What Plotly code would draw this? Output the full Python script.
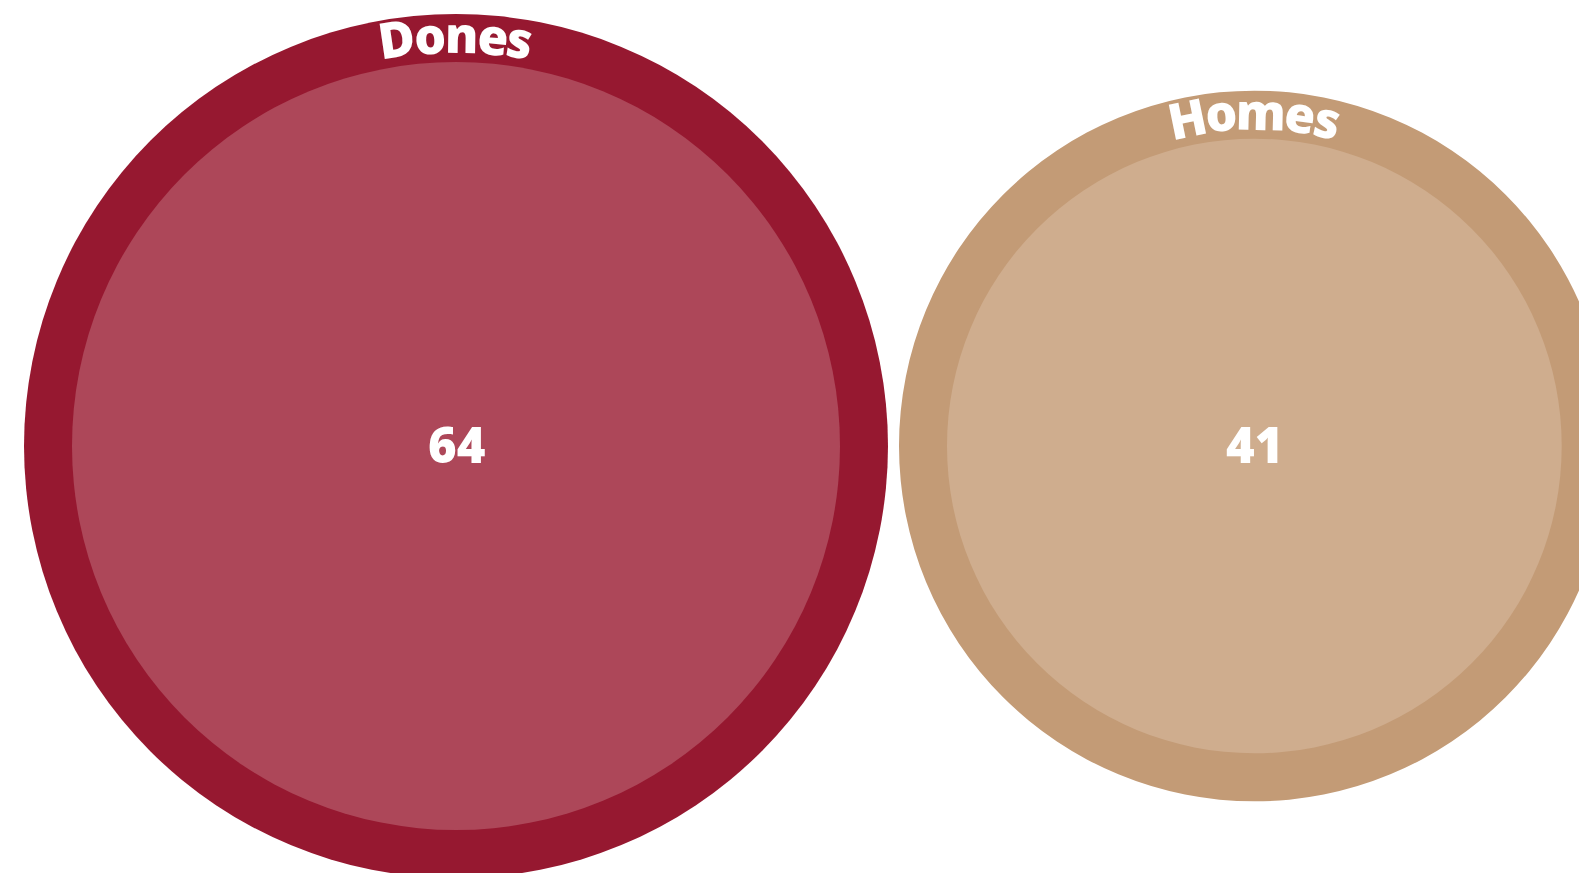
import math
import plotly.graph_objects as go

# ---- data ----
labels = ["Dones", "Homes"]
values = [64, 41]
outer_colors = ["#961830", "#c39b76"]
inner_colors = ["#ad4759", "#cfad8e"]

# ---- layout parameters (pixels) ----
W, H = 1587, 873
K = 48.0            # px per sqrt-unit of value
PAD = 1.0           # ring thickness in sqrt-units
GAP = 11            # px between outer circles
LEFT = 16           # px left offset
CY = 438
FONT = "Open Sans"
FS_LABEL = 50
FS_VALUE = 49

# approximate advance widths (em) for Open Sans Bold
ADV = {"D": 0.71, "o": 0.62, "n": 0.665, "e": 0.595, "s": 0.51,
       "H": 0.77, "m": 0.99}

fig = go.Figure()
shapes = []
annotations = []

x_cursor = LEFT
for lab, val, oc, ic in zip(labels, values, outer_colors, inner_colors):
    r_in = math.sqrt(val) * K
    r_out = (math.sqrt(val) + PAD) * K
    cx = x_cursor + r_out
    x_cursor = cx + r_out + GAP
    shapes.append(dict(type="circle", xref="x", yref="y",
                       x0=cx - r_out, x1=cx + r_out, y0=CY - r_out, y1=CY + r_out,
                       fillcolor=oc, line=dict(width=0), layer="below"))
    shapes.append(dict(type="circle", xref="x", yref="y",
                       x0=cx - r_in, x1=cx + r_in, y0=CY - r_in, y1=CY + r_in,
                       fillcolor=ic, line=dict(width=0), layer="below"))
    # value in center
    annotations.append(dict(x=cx, y=CY - 2, xref="x", yref="y", text=str(val),
                            showarrow=False, xanchor="center", yanchor="middle",
                            font=dict(family=FONT, size=FS_VALUE, color="white", weight=800)))
    # curved label along ring
    r_txt = (r_in + r_out) / 2 + 4
    widths = [ADV.get(c, 0.6) * FS_LABEL for c in lab]
    total = sum(widths)
    s = -total / 2
    for c, w in zip(lab, widths):
        mid = s + w / 2
        th = mid / r_txt
        px = cx + r_txt * math.sin(th)
        py = CY - r_txt * math.cos(th)
        annotations.append(dict(x=px, y=py, xref="x", yref="y", text=c,
                                showarrow=False, xanchor="center", yanchor="middle",
                                textangle=math.degrees(th),
                                font=dict(family=FONT, size=FS_LABEL, color="white", weight=800)))
        s += w

# invisible trace to anchor axes
fig.add_trace(go.Scatter(x=[0, W], y=[0, H], mode="markers",
                         marker=dict(opacity=0), hoverinfo="skip", showlegend=False))

fig.update_layout(width=W, height=H, margin=dict(l=0, r=0, t=0, b=0),
                  paper_bgcolor="white", plot_bgcolor="white",
                  shapes=shapes, annotations=annotations, showlegend=False,
                  xaxis=dict(range=[0, W], visible=False, fixedrange=True),
                  yaxis=dict(range=[H, 0], visible=False, fixedrange=True))

fig.write_html("out.html", config={"displayModeBar": False})
